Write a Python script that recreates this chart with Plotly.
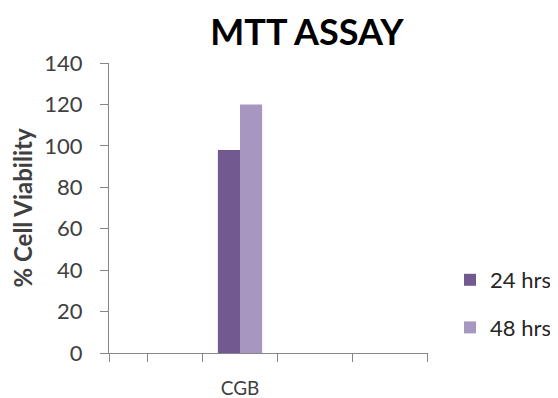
import plotly.graph_objects as go

categories = ["CGB"]
series_names = ["24 hrs", "48 hrs"]
values_24 = [98]
values_48 = [120]
y_ticks = [0, 20, 40, 60, 80, 100, 120, 140]
colors = ["#725A91", "#A696C0"]

# x-range in category units (CGB at 0)
x_range = [-1.747, 2.507]
x_tick_positions = [-1.747, -1.24, -0.5, 0.5, 1.5, 2.5]

fig = go.Figure()
fig.add_trace(go.Bar(x=categories, y=values_24, name=series_names[0], legendgroup="a",
                     marker=dict(color=colors[0], line=dict(width=0))))
fig.add_trace(go.Bar(x=categories, y=values_48, name=series_names[1], legendgroup="b",
                     marker=dict(color=colors[1], line=dict(width=0))))
# invisible helper trace on the tick axis
fig.add_trace(go.Scatter(x=x_range, y=[0, 0], xaxis="x2", mode="lines",
                         line=dict(width=0), showlegend=False, hoverinfo="skip"))

# page body has an 8px margin, so the figure is sized/placed to compensate
font_family = "Lato, 'Open Sans', sans-serif"
fig.update_layout(
    width=550, height=390,
    margin=dict(l=101, r=130, t=55, b=45, autoexpand=False),
    paper_bgcolor="white", plot_bgcolor="white",
    barmode="group", bargap=0.41, bargroupgap=0,
    font=dict(family=font_family, color="#404040"),
    title=dict(text="<b>MTT ASSAY</b>", x=0.5436, xref="container", xanchor="center",
               y=0.938, yref="container", yanchor="middle",
               font=dict(size=36, color="black", family=font_family)),
    xaxis=dict(type="category", range=x_range, showline=False, ticks="",
               showgrid=False, zeroline=False, automargin=False,
               tickfont=dict(size=19, color="#404040"), ticklabelstandoff=22),
    xaxis2=dict(overlaying="x", anchor="y", side="bottom", range=x_range,
                tickmode="array", tickvals=x_tick_positions, showticklabels=False,
                ticks="outside", ticklen=8, tickcolor="#868686", tickwidth=1,
                showline=True, linecolor="#868686", linewidth=1,
                showgrid=False, zeroline=False, automargin=False),
    yaxis=dict(range=[0, 140], tickmode="array", tickvals=y_ticks,
               ticks="outside", ticklen=8, tickcolor="#868686",
               showline=True, linecolor="#868686", linewidth=1,
               showgrid=False, zeroline=False, automargin=False,
               tickfont=dict(size=22, color="#404040"), ticklabelstandoff=13,
               title=dict(text="<b>% Cell Viability</b>", standoff=14,
                          font=dict(size=24, color="#404040"))),
    legend=dict(x=1.069, xanchor="left", y=0.169, yanchor="middle",
                font=dict(size=22, color="#262626"), tracegroupgap=16,
                traceorder="grouped", itemwidth=30, bgcolor="rgba(0,0,0,0)"),
)

fig.write_html("out.html")
